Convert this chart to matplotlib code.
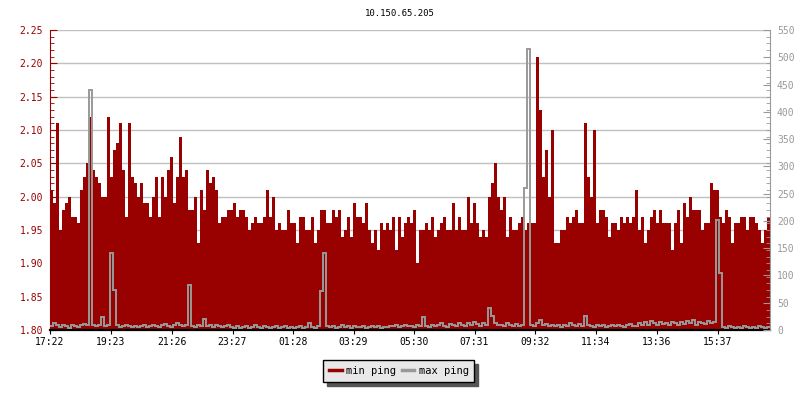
import numpy as np
import matplotlib
matplotlib.use("Agg")
import matplotlib.pyplot as plt
from matplotlib.lines import Line2D
from matplotlib.ticker import MultipleLocator, FixedLocator

plt.rcParams.update({"font.family": "DejaVu Sans Mono"})

TITLE = "10.150.65.205"
STEP_MIN = 6  # one sample every 6 minutes, 24 h window starting 17:22

# min ping (ms), left axis
min_ping = [
    2.01, 1.99, 2.11, 1.95, 1.98, 1.99, 2.00, 1.97, 1.97, 1.96, 2.01, 2.03, 2.05, 2.12, 2.04,
    2.03, 2.02, 2.00, 2.00, 2.12, 2.03, 2.07, 2.08, 2.11, 2.04, 1.97, 2.11, 2.03, 2.02, 2.00,
    2.02, 1.99, 1.99, 1.97, 2.00, 2.03, 1.97, 2.03, 2.00, 2.04, 2.06, 1.99, 2.03, 2.09, 2.03,
    2.04, 1.98, 1.98, 2.00, 1.93, 2.01, 1.98, 2.04, 2.02, 2.03, 2.01, 1.96, 1.97, 1.97, 1.98,
    1.98, 1.99, 1.97, 1.98, 1.98, 1.97, 1.95, 1.96, 1.97, 1.96, 1.96, 1.97, 2.01, 1.97, 2.00,
    1.95, 1.96, 1.95, 1.95, 1.98, 1.96, 1.96, 1.93, 1.97, 1.97, 1.95, 1.95, 1.97, 1.93, 1.95,
    1.98, 1.98, 1.96, 1.96, 1.98, 1.97, 1.98, 1.94, 1.95, 1.97, 1.94, 1.99, 1.97, 1.97, 1.96,
    1.99, 1.95, 1.93, 1.95, 1.92, 1.96, 1.95, 1.96, 1.95, 1.97, 1.92, 1.97, 1.94, 1.96, 1.97,
    1.96, 1.98, 1.90, 1.95, 1.95, 1.96, 1.95, 1.97, 1.94, 1.95, 1.96, 1.97, 1.95, 1.95, 1.99,
    1.95, 1.97, 1.95, 1.95, 2.00, 1.96, 1.99, 1.96, 1.94, 1.95, 1.94, 2.00, 2.02, 2.05, 2.00,
    1.98, 2.00, 1.94, 1.97, 1.95, 1.95, 1.96, 1.97, 1.95, 1.96, 1.96, 1.96, 2.21, 2.13, 2.03,
    2.07, 2.00, 2.10, 1.93, 1.93, 1.95, 1.95, 1.97, 1.96, 1.97, 1.98, 1.96, 1.96, 2.11, 2.03,
    2.00, 2.10, 1.96, 1.98, 1.98, 1.97, 1.94, 1.96, 1.96, 1.95, 1.97, 1.96, 1.97, 1.96, 1.97,
    2.01, 1.95, 1.97, 1.93, 1.95, 1.97, 1.98, 1.96, 1.98, 1.96, 1.96, 1.96, 1.92, 1.96, 1.98,
    1.93, 1.99, 1.97, 2.00, 1.98, 1.98, 1.98, 1.95, 1.96, 1.96, 2.02, 2.01, 2.01, 1.97, 1.96,
    1.98, 1.97, 1.93, 1.96, 1.96, 1.97, 1.97, 1.95, 1.97, 1.97, 1.96, 1.95, 1.93, 1.95, 1.97,
]

# max ping (ms), right axis
max_ping = [
    8, 12, 10, 6, 9, 7, 4, 10, 8, 6, 9, 11, 10, 440, 10, 8, 9, 24, 7, 10, 142, 73, 9, 6, 8, 10, 7, 5, 8, 6,
    7, 9, 6, 8, 10, 7, 5, 9, 11, 8, 6, 10, 12, 9, 7, 10, 82, 8, 6, 9, 7, 20, 8, 10, 6, 9, 7, 5, 8, 10,
    6, 4, 8, 3, 5, 7, 4, 6, 9, 5, 4, 7, 5, 3, 6, 8, 4, 5, 7, 4, 6, 3, 5, 8, 4, 6, 12, 5, 4, 7,
    72, 142, 8, 5, 7, 4, 6, 9, 5, 7, 4, 8, 6, 5, 7, 4, 6, 8, 5, 7, 4, 6, 5, 8, 7, 9, 6, 8, 10, 7,
    8, 6, 9, 7, 23, 8, 6, 10, 7, 9, 12, 8, 6, 11, 9, 7, 13, 10, 8, 12, 9, 14, 11, 8, 12, 10, 40, 25, 12, 9,
    10, 8, 12, 9, 7, 11, 8, 10, 260, 515, 10, 8, 12, 18, 9, 11, 8, 10, 7, 9, 6, 10, 8, 12, 9, 7, 11, 8, 25, 10,
    8, 6, 9, 7, 10, 6, 8, 9, 7, 10, 8, 6, 9, 11, 8, 7, 12, 9, 14, 10, 16, 12, 9, 15, 11, 13, 10, 14, 12, 9,
    14, 11, 16, 12, 18, 10, 15, 13, 11, 16, 12, 14, 202, 105, 6, 4, 7, 5, 3, 6, 4, 8, 5, 3, 6, 4, 7, 5, 3, 6,
]

tick_labels = ["17:22", "19:23", "21:26", "23:27", "01:28", "03:29",
               "05:30", "07:31", "09:32", "11:34", "13:36", "15:37"]

RED = "#990000"
GREY = "#999999"


def minutes_since_start(label, start="17:22"):
    h, m = map(int, label.split(":"))
    h0, m0 = map(int, start.split(":"))
    return ((h * 60 + m) - (h0 * 60 + m0)) % 1440


edges = np.arange(len(min_ping) + 1) * STEP_MIN

fig = plt.figure(figsize=(8, 4), dpi=100)
ax = fig.add_axes([50 / 800, 70 / 400, 720 / 800, 300 / 400])
ax2 = ax.twinx()

ax.stairs(min_ping, edges, baseline=1.80, fill=True, color=RED, lw=0)
ax2.stairs(max_ping, edges, baseline=None, color=GREY, lw=1.4)

ax.set_xlim(edges[0], edges[-1])
ax.set_ylim(1.80, 2.25)
ax2.set_ylim(0, 550)

ax.set_axisbelow(True)
ax.grid(axis="y", color="#c0c0c0", lw=1.0)
ax.yaxis.set_major_locator(MultipleLocator(0.05))
ax.yaxis.set_minor_locator(MultipleLocator(0.01))
ax.yaxis.set_major_formatter(plt.FuncFormatter(lambda v, _: f"{v:.2f}"))
ax2.yaxis.set_major_locator(MultipleLocator(50))
ax2.yaxis.set_minor_locator(MultipleLocator(550 / 45))

ax.xaxis.set_major_locator(FixedLocator([minutes_since_start(t) for t in tick_labels]))
ax.set_xticklabels(tick_labels)

for a in (ax, ax2):
    a.spines["top"].set_visible(False)
ax.spines["left"].set_color(RED)
ax.spines["right"].set_visible(False)
ax2.spines["left"].set_visible(False)
ax2.spines["bottom"].set_visible(False)
ax2.spines["right"].set_color(GREY)
ax.spines["bottom"].set_color("black")
ax.spines["bottom"].set_linewidth(1.6)

ax.tick_params(axis="y", which="both", direction="in", colors=RED, labelsize=7, pad=5)
ax.tick_params(axis="y", which="major", length=5)
ax.tick_params(axis="y", which="minor", length=3)
ax2.tick_params(axis="y", which="both", direction="in", colors=GREY, labelsize=7, pad=5)
ax2.tick_params(axis="y", which="major", length=5)
ax2.tick_params(axis="y", which="minor", length=3)
ax.tick_params(axis="x", direction="out", length=3, colors="black", labelsize=7, pad=2)

fig.text(0.5, 1 - 13 / 400, TITLE, ha="center", va="center", fontsize=6.5)

handles = [Line2D([0], [0], color=RED, lw=2.5, label="min ping"),
           Line2D([0], [0], color=GREY, lw=2.5, label="max ping")]
leg = fig.legend(handles=handles, loc="center", bbox_to_anchor=(0.4985, 1 - 371 / 400),
                 ncol=2, fontsize=7.5, fancybox=False, framealpha=1,
                 facecolor="#e8e8e8", edgecolor="black",
                 shadow={"ox": 3, "oy": -3, "color": "#555555", "alpha": 1},
                 handlelength=1.2, handletextpad=0.4, columnspacing=0.6,
                 borderpad=0.55, borderaxespad=0)
leg.get_frame().set_linewidth(1.0)

fig.savefig("out.png", dpi=100)
